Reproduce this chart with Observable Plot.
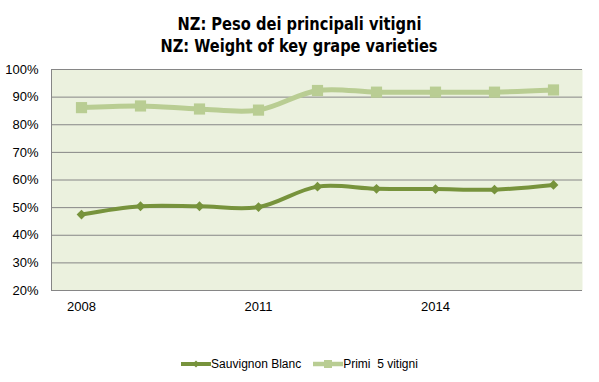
<!DOCTYPE html>
<html>
<head>
<meta charset="utf-8">
<script src="https://cdn.jsdelivr.net/npm/d3@7"></script>
<script src="https://cdn.jsdelivr.net/npm/@observablehq/plot@0.6"></script>
<style>
  html, body { margin: 0; padding: 0; background: #fff; }
  #wrap { position: relative; width: 599px; height: 382px; overflow: hidden; }
  #title { position: absolute; left: 0; top: 13px; width: 599px; text-align: center;
    font-family: "Liberation Sans Narrow", "DejaVu Sans Condensed", sans-serif; font-weight: bold;
    font-size: 18.5px; line-height: 22px; color: #000; }
  #title span { display: inline-block; transform-origin: center; white-space: nowrap; }
  #chart { position: absolute; left: 0; top: 60px; }
  #legend { position: absolute; left: 0; top: 356px; width: 599px; text-align: center;
    font-family: "Liberation Sans", Arial, sans-serif; font-size: 12px; line-height: 16px; color: #000; }
  .item { display: inline-flex; align-items: center; margin: 0 6px; }
  .item svg { margin-right: 0px; }
</style>
</head>
<body>
<div id="wrap">
  <div id="title"><span id="t1">NZ: Peso dei principali vitigni</span><br><span id="t2">NZ: Weight of key grape varieties</span></div>
  <div id="chart"></div>
  <div id="legend"></div>
</div>
<script>
const years = ["2008","2009","2010","2011","2012","2013","2014","2015","2016"];
const xTicks = ["2008","2011","2014"];
const sauvignon = [47.5, 50.5, 50.5, 50.2, 57.6, 56.8, 56.7, 56.5, 58.2];
const primi = [86.2, 86.8, 85.7, 85.3, 92.4, 91.8, 91.8, 91.8, 92.6];
const yTicks = [20, 30, 40, 50, 60, 70, 80, 90, 100];
const seriesNames = ["Sauvignon Blanc", "Primi  5 vitigni"];
const colors = ["#77933c", "#b9cd93"];

// fit title lines to reference widths
[["t1", 244], ["t2", 277]].forEach(([id, w]) => {
  const el = document.getElementById(id);
  const cur = el.getBoundingClientRect().width;
  if (cur > 0) el.style.transform = `scaleX(${w / cur})`;
});

const data = [];
years.forEach((y, i) => {
  data.push({year: y, value: sauvignon[i], series: seriesNames[0]});
  data.push({year: y, value: primi[i], series: seriesNames[1]});
});
const sData = data.filter(d => d.series === seriesNames[0]);
const pData = data.filter(d => d.series === seriesNames[1]);

const chart = Plot.plot({
  width: 599,
  height: 260,
  marginLeft: 51,
  marginRight: 17,
  marginTop: 9,
  marginBottom: 30,
  style: {fontFamily: "'Liberation Sans', Arial, sans-serif", color: "#000", background: "transparent"},
  x: {type: "point", domain: years, padding: 0.5, label: null},
  y: {domain: [20, 100], label: null},
  marks: [
    Plot.frame({fill: "#ebf1de", stroke: null}),
    Plot.ruleY(yTicks, {stroke: "#868686", strokeWidth: 1}),
    Plot.axisY({ticks: yTicks, tickSize: 0, tickPadding: 13, tickFormat: d => d + "%", fontSize: 13, label: null}),
    Plot.axisX({ticks: xTicks, tickSize: 0, tickPadding: 11, fontSize: 13, label: null}),
    Plot.line(pData, {x: "year", y: "value", stroke: colors[1], strokeWidth: 5, curve: "catmull-rom"}),
    Plot.dot(pData, {x: "year", y: "value", symbol: "square", r: 6.3, fill: colors[1], stroke: null}),
    Plot.line(sData, {x: "year", y: "value", stroke: colors[0], strokeWidth: 4, curve: "catmull-rom"}),
    Plot.dot(sData, {x: "year", y: "value", symbol: "diamond2", r: 4.4, fill: colors[0], stroke: null})
  ]
});
// left axis line
const svg = d3.select(chart);
svg.append("line")
  .attr("x1", 51.5).attr("x2", 51.5).attr("y1", 9).attr("y2", 230)
  .attr("stroke", "#868686").attr("stroke-width", 1);
document.getElementById("chart").appendChild(chart);

// legend
const legend = document.getElementById("legend");
seriesNames.forEach((name, i) => {
  const item = document.createElement("span");
  item.className = "item";
  const marker = i === 0
    ? `<svg width="30" height="10"><line x1="0" x2="30" y1="5" y2="5" stroke="${colors[0]}" stroke-width="4"/><path d="M15,1.5L18.5,5L15,8.5L11.5,5Z" fill="${colors[0]}"/></svg>`
    : `<svg width="30" height="10"><line x1="0" x2="30" y1="5" y2="5" stroke="${colors[1]}" stroke-width="4.5"/><rect x="11" y="1" width="8" height="8" fill="${colors[1]}"/></svg>`;
  item.innerHTML = marker + `<span style="white-space:pre">${name}</span>`;
  legend.appendChild(item);
});
</script>
</body>
</html>
